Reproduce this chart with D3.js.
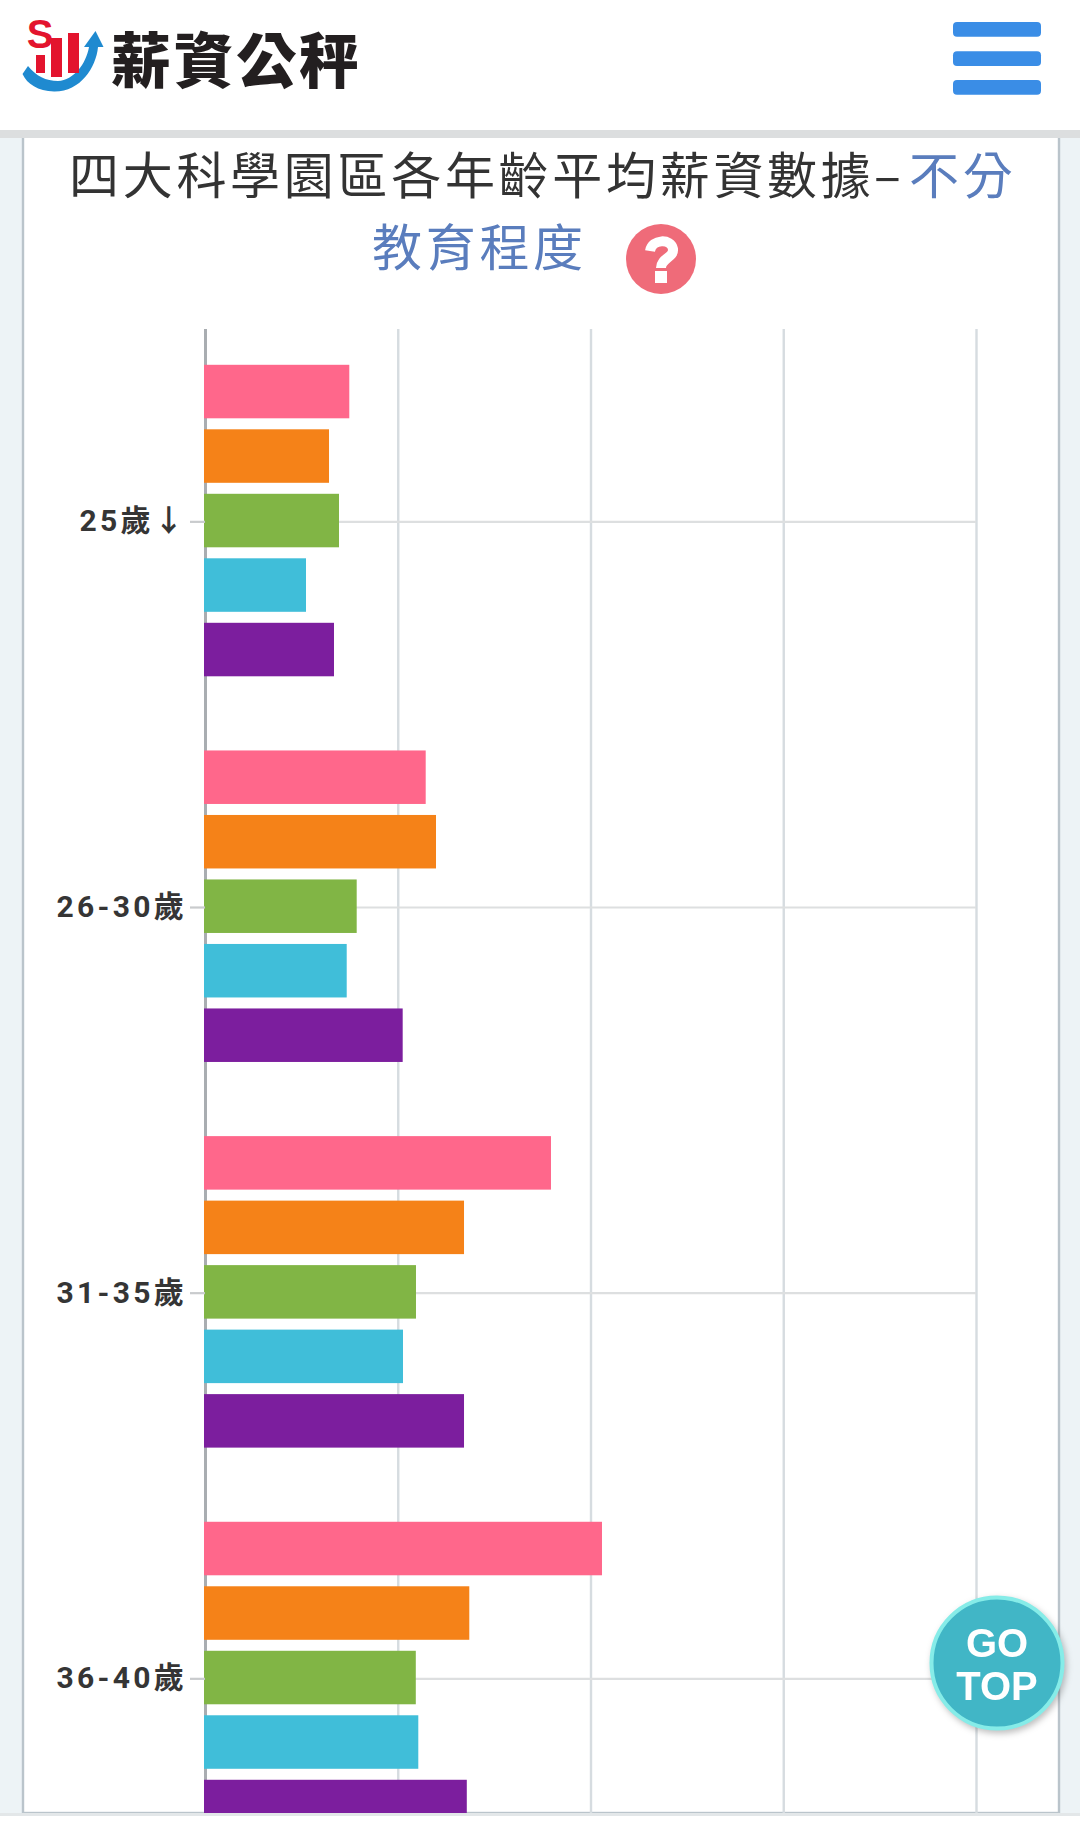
<!DOCTYPE html>
<html lang="zh-Hant">
<head>
<meta charset="utf-8">
<script src="https://cdnjs.cloudflare.com/ajax/libs/d3/7.8.5/d3.min.js"></script>
<style>
html,body{margin:0;padding:0;background:#fff;}
svg{display:block;}
text{font-family:"Noto Sans CJK TC","Noto Sans CJK SC",sans-serif;}
.age text{font-family:Roboto,"Noto Sans CJK TC",sans-serif;font-weight:700;font-size:30px;letter-spacing:3.3px;fill:#353535;}
</style>
</head>
<body>
<svg id="page" width="1080" height="1821" xmlns="http://www.w3.org/2000/svg"></svg>
<script>
// ---- data (average monthly pay, one row per park series) ----
const ageGroups = ["25歲↓", "26-30歲", "31-35歲", "36-40歲"];
const seriesNames = ["系列一", "系列二", "系列三", "系列四", "系列五"];
const series1 = [37430, 57250, 89750, 102980];
const series2 = [32170, 59920, 67190, 68560];
const series3 = [34760, 39350, 54730, 54680];
const series4 = [26200, 36760, 51360, 55330];
const series5 = [33460, 51280, 67190, 67910];
const seriesValues = [series1, series2, series3, series4, series5];
const seriesColors = ["#FF678B", "#F58218", "#81B545", "#40BED9", "#7C1E9E"];
const valueTicks = [0, 50000, 100000, 150000, 200000];
const titleDark = "四大科學園區各年齡平均薪資數據";
const titleBlue1 = "不分";
const titleBlue2 = "教育程度";

const svg = d3.select("#page");

// ---- page furniture ----
svg.append("rect").attr("width", 1080).attr("height", 1813).attr("fill", "#EDF3F6");
svg.append("rect").attr("x", 23).attr("y", 130).attr("width", 1036).attr("height", 1683)
  .attr("fill", "#fff").attr("stroke", "#BAC4CB").attr("stroke-width", 2.4);
svg.append("rect").attr("y", 1813).attr("width", 1080).attr("height", 8).attr("fill", "#fff");
svg.append("rect").attr("y", 1813).attr("width", 1080).attr("height", 3).attr("fill", "#E3E7E9");

// header
svg.append("rect").attr("width", 1080).attr("height", 130).attr("fill", "#fff");
svg.append("rect").attr("y", 130).attr("width", 1080).attr("height", 8).attr("fill", "#DCDEDF");

// logo
const logo = svg.append("g");
logo.append("path").attr("fill", "#1F8AD0")
  .attr("d", "M22.5 74 L28 66 C36 76 46 81 58 81 C74 80 86 64 89 47 L84 47 L95.5 31 L103.5 47 L98 47 C96 68 80 92 54 91.5 C38 91 27 84 22.5 74 Z");
logo.selectAll("rect.b").data([[36, 55, 9, 18], [51, 38, 11, 39], [68, 33, 11, 40]]).join("rect")
  .attr("class", "b").attr("x", d => d[0]).attr("y", d => d[1]).attr("width", d => d[2]).attr("height", d => d[3])
  .attr("fill", "#E3142E");
logo.append("text").text("S").attr("x", 40).attr("y", 48).attr("text-anchor", "middle")
  .attr("fill", "#E3142E").style("font-family", "'Liberation Sans'").style("font-weight", 700).style("font-size", "40px");
logo.append("text").text("薪資公秤").attr("x", 111).attr("y", 83)
  .attr("textLength", 248).attr("lengthAdjust", "spacing")
  .attr("fill", "#231F20").style("font-weight", 900).style("font-size", "60px");

// hamburger
svg.append("g").selectAll("rect").data([22, 51.3, 80]).join("rect")
  .attr("x", 953).attr("y", d => d).attr("width", 88).attr("height", 14.7).attr("rx", 4)
  .attr("fill", "#3A8DE6");

// title
const title = svg.append("g").style("font-size", "50px").style("font-weight", 400);
const line1 = title.append("text").attr("y", 194).attr("fill", "#333").style("letter-spacing", "3.7px");
line1.append("tspan").attr("x", 69).text(titleDark);
line1.append("tspan").attr("x", 874).text("–");
line1.append("tspan").attr("x", 909).text(titleBlue1).attr("fill", "#5A7DBD");
title.append("text").attr("x", 372).attr("y", 266).attr("fill", "#5A7DBD").style("letter-spacing", "3.7px").text(titleBlue2);

// help icon
svg.append("circle").attr("cx", 661).attr("cy", 259).attr("r", 35).attr("fill", "#EF6B79");
svg.append("path").attr("fill", "none").attr("stroke", "#fff").attr("stroke-width", 10)
  .attr("d", "M650 251 C652 239 671 238 673 249 C674 258 661 258 661 268");
svg.append("rect").attr("x", 655).attr("y", 271).attr("width", 12).attr("height", 12).attr("fill", "#fff");

// ---- chart ----
const plotLeft = 205, plotTop = 329, plotBottom = 1813;
const x = d3.scaleLinear().domain([0, 200000]).range([plotLeft, 976]);
const y = d3.scaleBand().domain(ageGroups).range([plotTop, plotTop + 4 * 385.67])
  .paddingInner(0.1923).paddingOuter(0.0962);
const inner = d3.scaleBand().domain(seriesNames).range([0, y.bandwidth()]).paddingInner(0.1705);
const barLift = 1.3;

svg.append("defs").append("clipPath").attr("id", "plotClip").append("rect")
  .attr("x", 0).attr("y", plotTop - 1).attr("width", 1080).attr("height", plotBottom - plotTop + 1);
const plot = svg.append("g").attr("clip-path", "url(#plotClip)");

// vertical grid
const vGrid = plot.append("g").attr("transform", `translate(0,${plotTop})`)
  .call(d3.axisBottom(x).tickValues(valueTicks).tickSize(plotBottom - plotTop).tickFormat(""));
vGrid.select(".domain").remove();
vGrid.selectAll("line").attr("stroke", d => d === 0 ? "#A9ADB1" : "#D6DCE0").attr("stroke-width", d => d === 0 ? 3 : 2.4);

// horizontal grid
const hGrid = plot.append("g").attr("transform", `translate(${plotLeft},0)`)
  .call(d3.axisRight(y).tickSize(x.range()[1] - plotLeft).tickFormat(""));
hGrid.select(".domain").remove();
hGrid.selectAll("line").attr("stroke", "#DDDFE0").attr("stroke-width", 2.2);

// category axis
const yAxis = svg.append("g").attr("class", "age").attr("transform", `translate(${plotLeft},0)`)
  .call(d3.axisLeft(y).tickSize(15).tickPadding(3));
yAxis.select(".domain").remove();
yAxis.selectAll("line").attr("stroke", "#C9CBCD").attr("stroke-width", 2.2);

// bars
const groups = plot.append("g").selectAll("g").data(ageGroups).join("g")
  .attr("transform", a => `translate(0,${y(a) - barLift})`);
groups.selectAll("rect")
  .data((a, i) => seriesNames.map((s, k) => ({ s, k, v: seriesValues[k][i] })))
  .join("rect")
  .attr("x", x(0) - 1)
  .attr("y", d => inner(d.s))
  .attr("width", d => x(d.v) - x(0) + 1)
  .attr("height", inner.bandwidth())
  .attr("fill", d => seriesColors[d.k]);

// go-top button
const go = svg.append("g").style("filter", "drop-shadow(2px 3px 3px rgba(0,0,0,0.25))");
go.append("circle").attr("cx", 997).attr("cy", 1663).attr("r", 65.5)
  .attr("fill", "#41B6C6").attr("stroke", "#86ECE8").attr("stroke-width", 4);
go.selectAll("text").data([["GO", 1657], ["TOP", 1700]]).join("text")
  .text(d => d[0]).attr("x", 997).attr("y", d => d[1]).attr("text-anchor", "middle").attr("fill", "#fff")
  .style("font-family", "'Liberation Sans'").style("font-weight", 700).style("font-size", "40px");
</script>
</body>
</html>
